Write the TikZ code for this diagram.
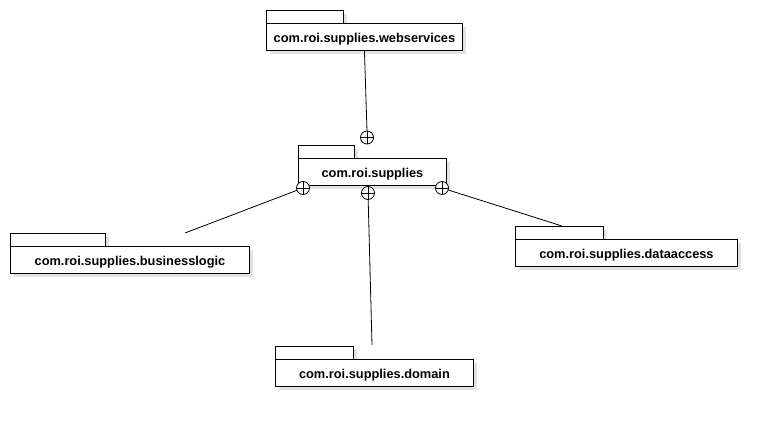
\documentclass[tikz,border=0pt]{standalone}
\usepackage{fontspec}
\setmainfont{Liberation Sans}
\usetikzlibrary{shadows}
\definecolor{shadowc}{RGB}{226,226,226}
\tikzset{
  pkgbody/.style={draw=black, fill=white, anchor=north west, minimum height=27pt, inner sep=0pt,
    text height=13pt, text depth=2.7pt,
    font=\bfseries\fontsize{12.8}{14}\selectfont, line width=0.9pt,
    drop shadow={shadow xshift=4pt, shadow yshift=-4pt, fill=shadowc, opacity=1}},
  pkgtab/.style={draw=black, fill=white, line width=0.9pt},
  conn/.style={draw=black, line width=0.8pt},
  nest/.style={circle, draw=black, fill=white, line width=0.8pt, minimum size=13pt, inner sep=0pt,
    path picture={\draw[line width=0.8pt] (path picture bounding box.north) -- (path picture bounding box.south)
      (path picture bounding box.west) -- (path picture bounding box.east);}}
}
\newcommand\pkgnode[6]{%
  \fill[shadowc] (#2+4,-#3+13-4) rectangle ++(#5,-13);
  \node[pkgbody, minimum width=#4pt] (#1) at (#2,-#3) {#6};
  \draw[pkgtab] (#1.north west) rectangle ++(#5,13);
}
\begin{document}
\begin{tikzpicture}[x=1pt,y=1pt]
\useasboundingbox[fill=white] (0,0) rectangle (777,-425);
\pkgnode{ws}{266}{23}{196}{77}{com.roi.supplies.webservices}
\pkgnode{sup}{298}{158}{148}{56}{com.roi.supplies}
\pkgnode{bl}{10}{246}{239}{95}{com.roi.supplies.businesslogic}
\pkgnode{da}{515}{239}{222}{88}{com.roi.supplies.dataaccess}
\pkgnode{dom}{275}{359}{198}{78}{com.roi.supplies.domain}
\coordinate (blend) at (185,-233);
\coordinate (daend) at (562,-226);
\coordinate (domend) at (372,-345);
\draw[conn] (ws.south) -- (367,-131);
\draw[conn] (303,-188) -- (blend);
\draw[conn] (442,-188) -- (daend);
\draw[conn] (368,-193) -- (domend);
\node[nest] (c1) at (367,-137.5) {};
\node[nest] (c2) at (303,-188) {};
\node[nest] (c3) at (368,-193) {};
\node[nest] (c4) at (442,-188) {};
\end{tikzpicture}
\end{document}
